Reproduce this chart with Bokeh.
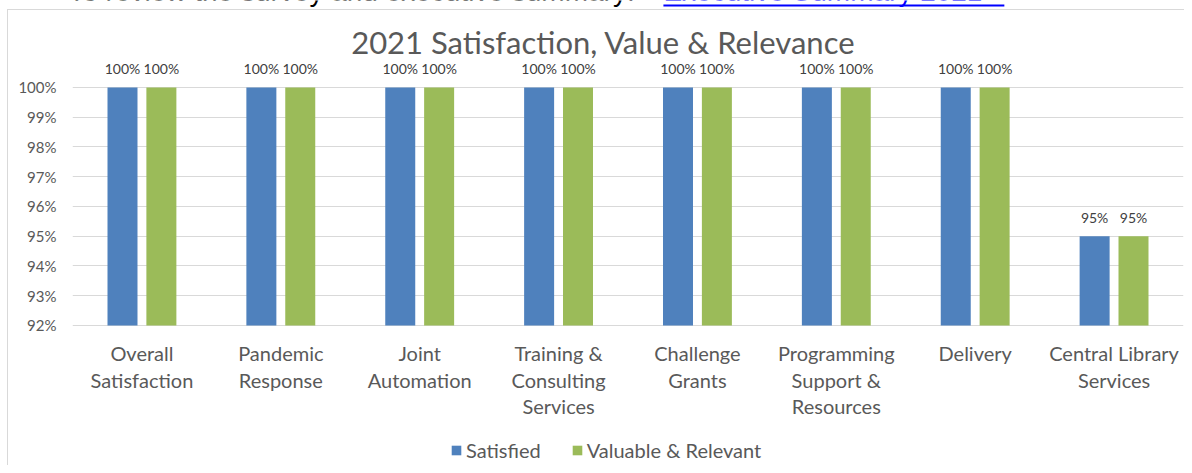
from bokeh.plotting import figure
from bokeh.models import ColumnDataSource, FactorRange, LabelSet, Label, Legend, LegendItem, FixedTicker
from bokeh.transform import dodge
from bokeh.embed import file_html
from bokeh.resources import INLINE
from bokeh.core.properties import value

categories = ["Overall\nSatisfaction", "Pandemic\nResponse", "Joint\nAutomation",
              "Training &\nConsulting\nServices", "Challenge\nGrants",
              "Programming\nSupport &\nResources", "Delivery", "Central Library\nServices"]
satisfied = [100, 100, 100, 100, 100, 100, 100, 95]
valuable = [100, 100, 100, 100, 100, 100, 100, 95]
series_names = ["Satisfied", "Valuable & Relevant"]
y_ticks = [92, 93, 94, 95, 96, 97, 98, 99, 100]
title_text = "2021 Satisfaction, Value & Relevance"
intro_text = "To review the survey and executive summary: "
link_text = "Executive Summary 2021"

FONT = "Lato"
TXT = "#595959"
BLUE = "#4f81bd"
GREEN = "#9bbb59"
BASE = 92

src = ColumnDataSource(dict(
    cat=categories, sat=satisfied, val=valuable,
    sat_lbl=[f"{v}%" for v in satisfied], val_lbl=[f"{v}%" for v in valuable],
    base=[BASE] * len(categories),
    lab_y=[91.47] * len(categories),
))

p = figure(width=1184, height=465, x_range=FactorRange(*categories), y_range=(87.294, 102.924),
           output_backend="svg", toolbar_location=None,
           min_border_left=72, min_border_right=1, min_border_top=0, min_border_bottom=0)
p.outline_line_color = None
p.background_fill_alpha = 0
p.border_fill_alpha = 0
p.styles = {"background": "linear-gradient(#d9d9d9,#d9d9d9) 7px 9px / 1px 100% no-repeat, "
                          "linear-gradient(#d9d9d9,#d9d9d9) 7px 9px / 100% 1px no-repeat, white"}

r1 = p.vbar(x=dodge("cat", -0.14, range=p.x_range), bottom="base", top="sat", width=0.216,
            source=src, fill_color=BLUE, line_color=None)
r2 = p.vbar(x=dodge("cat", 0.14, range=p.x_range), bottom="base", top="val", width=0.216,
            source=src, fill_color=GREEN, line_color=None)

lbl_props = dict(text_font=value(FONT), text_font_size="14px", text_color="#404040",
                 text_align="center", text_baseline="bottom", y_offset=10)
p.add_layout(LabelSet(x=dodge("cat", -0.14, range=p.x_range), y="sat", text="sat_lbl", source=src, **lbl_props))
p.add_layout(LabelSet(x=dodge("cat", 0.14, range=p.x_range), y="val", text="val_lbl", source=src, **lbl_props))

# category labels
p.text(x="cat", y="lab_y", text="cat", source=src, text_font=value(FONT), text_font_size="20px",
       text_color=TXT, text_align="center", text_baseline="top", text_line_height=1.1)

p.add_layout(Label(x=3.823, y=101.513, text=title_text, text_font=FONT,
                   text_font_size="31px", text_color=TXT, text_align="center", text_baseline="middle"))

# intro line above the chart box (cut by the top edge, as in the source screenshot)
p.add_layout(Label(x=4.104, y=102.69, text=intro_text, text_font="Liberation Sans",
                   text_font_size="28px", text_color="black", text_align="right", text_baseline="bottom"))
p.add_layout(Label(x=4.255, y=102.69, text=link_text, text_font="Liberation Sans",
                   text_font_size="28px", text_color="#0000ff", text_align="left", text_baseline="bottom"))
p.segment(x0=[4.255], y0=[102.76], x1=[6.71], y1=[102.76], line_color="#0000ff", line_width=2)

p.yaxis.ticker = FixedTicker(ticks=y_ticks)
p.yaxis.major_label_overrides = {t: f"{t}%" for t in y_ticks}
p.yaxis.axis_line_color = None
p.yaxis.major_tick_line_color = None
p.yaxis.minor_tick_line_color = None
p.yaxis.major_label_standoff = 10
p.yaxis.major_label_text_font = FONT
p.yaxis.major_label_text_font_size = "15px"
p.yaxis.major_label_text_color = TXT

p.xaxis.visible = False

p.xgrid.grid_line_color = None
p.ygrid.ticker = FixedTicker(ticks=y_ticks)
p.ygrid.grid_line_color = "#d9d9d9"
p.ygrid.grid_line_width = 1

legend = Legend(items=[LegendItem(label=series_names[0], renderers=[r1]),
                       LegendItem(label=series_names[1], renderers=[r2])],
                orientation="horizontal", location=(378, 3),
                label_text_font=FONT, label_text_font_size="20px", label_text_color=TXT,
                glyph_width=12, glyph_height=12, label_standoff=4, spacing=30,
                border_line_color=None, background_fill_alpha=0, margin=0, padding=4)
p.add_layout(legend)

open("out.html", "w").write(file_html(p, INLINE))
